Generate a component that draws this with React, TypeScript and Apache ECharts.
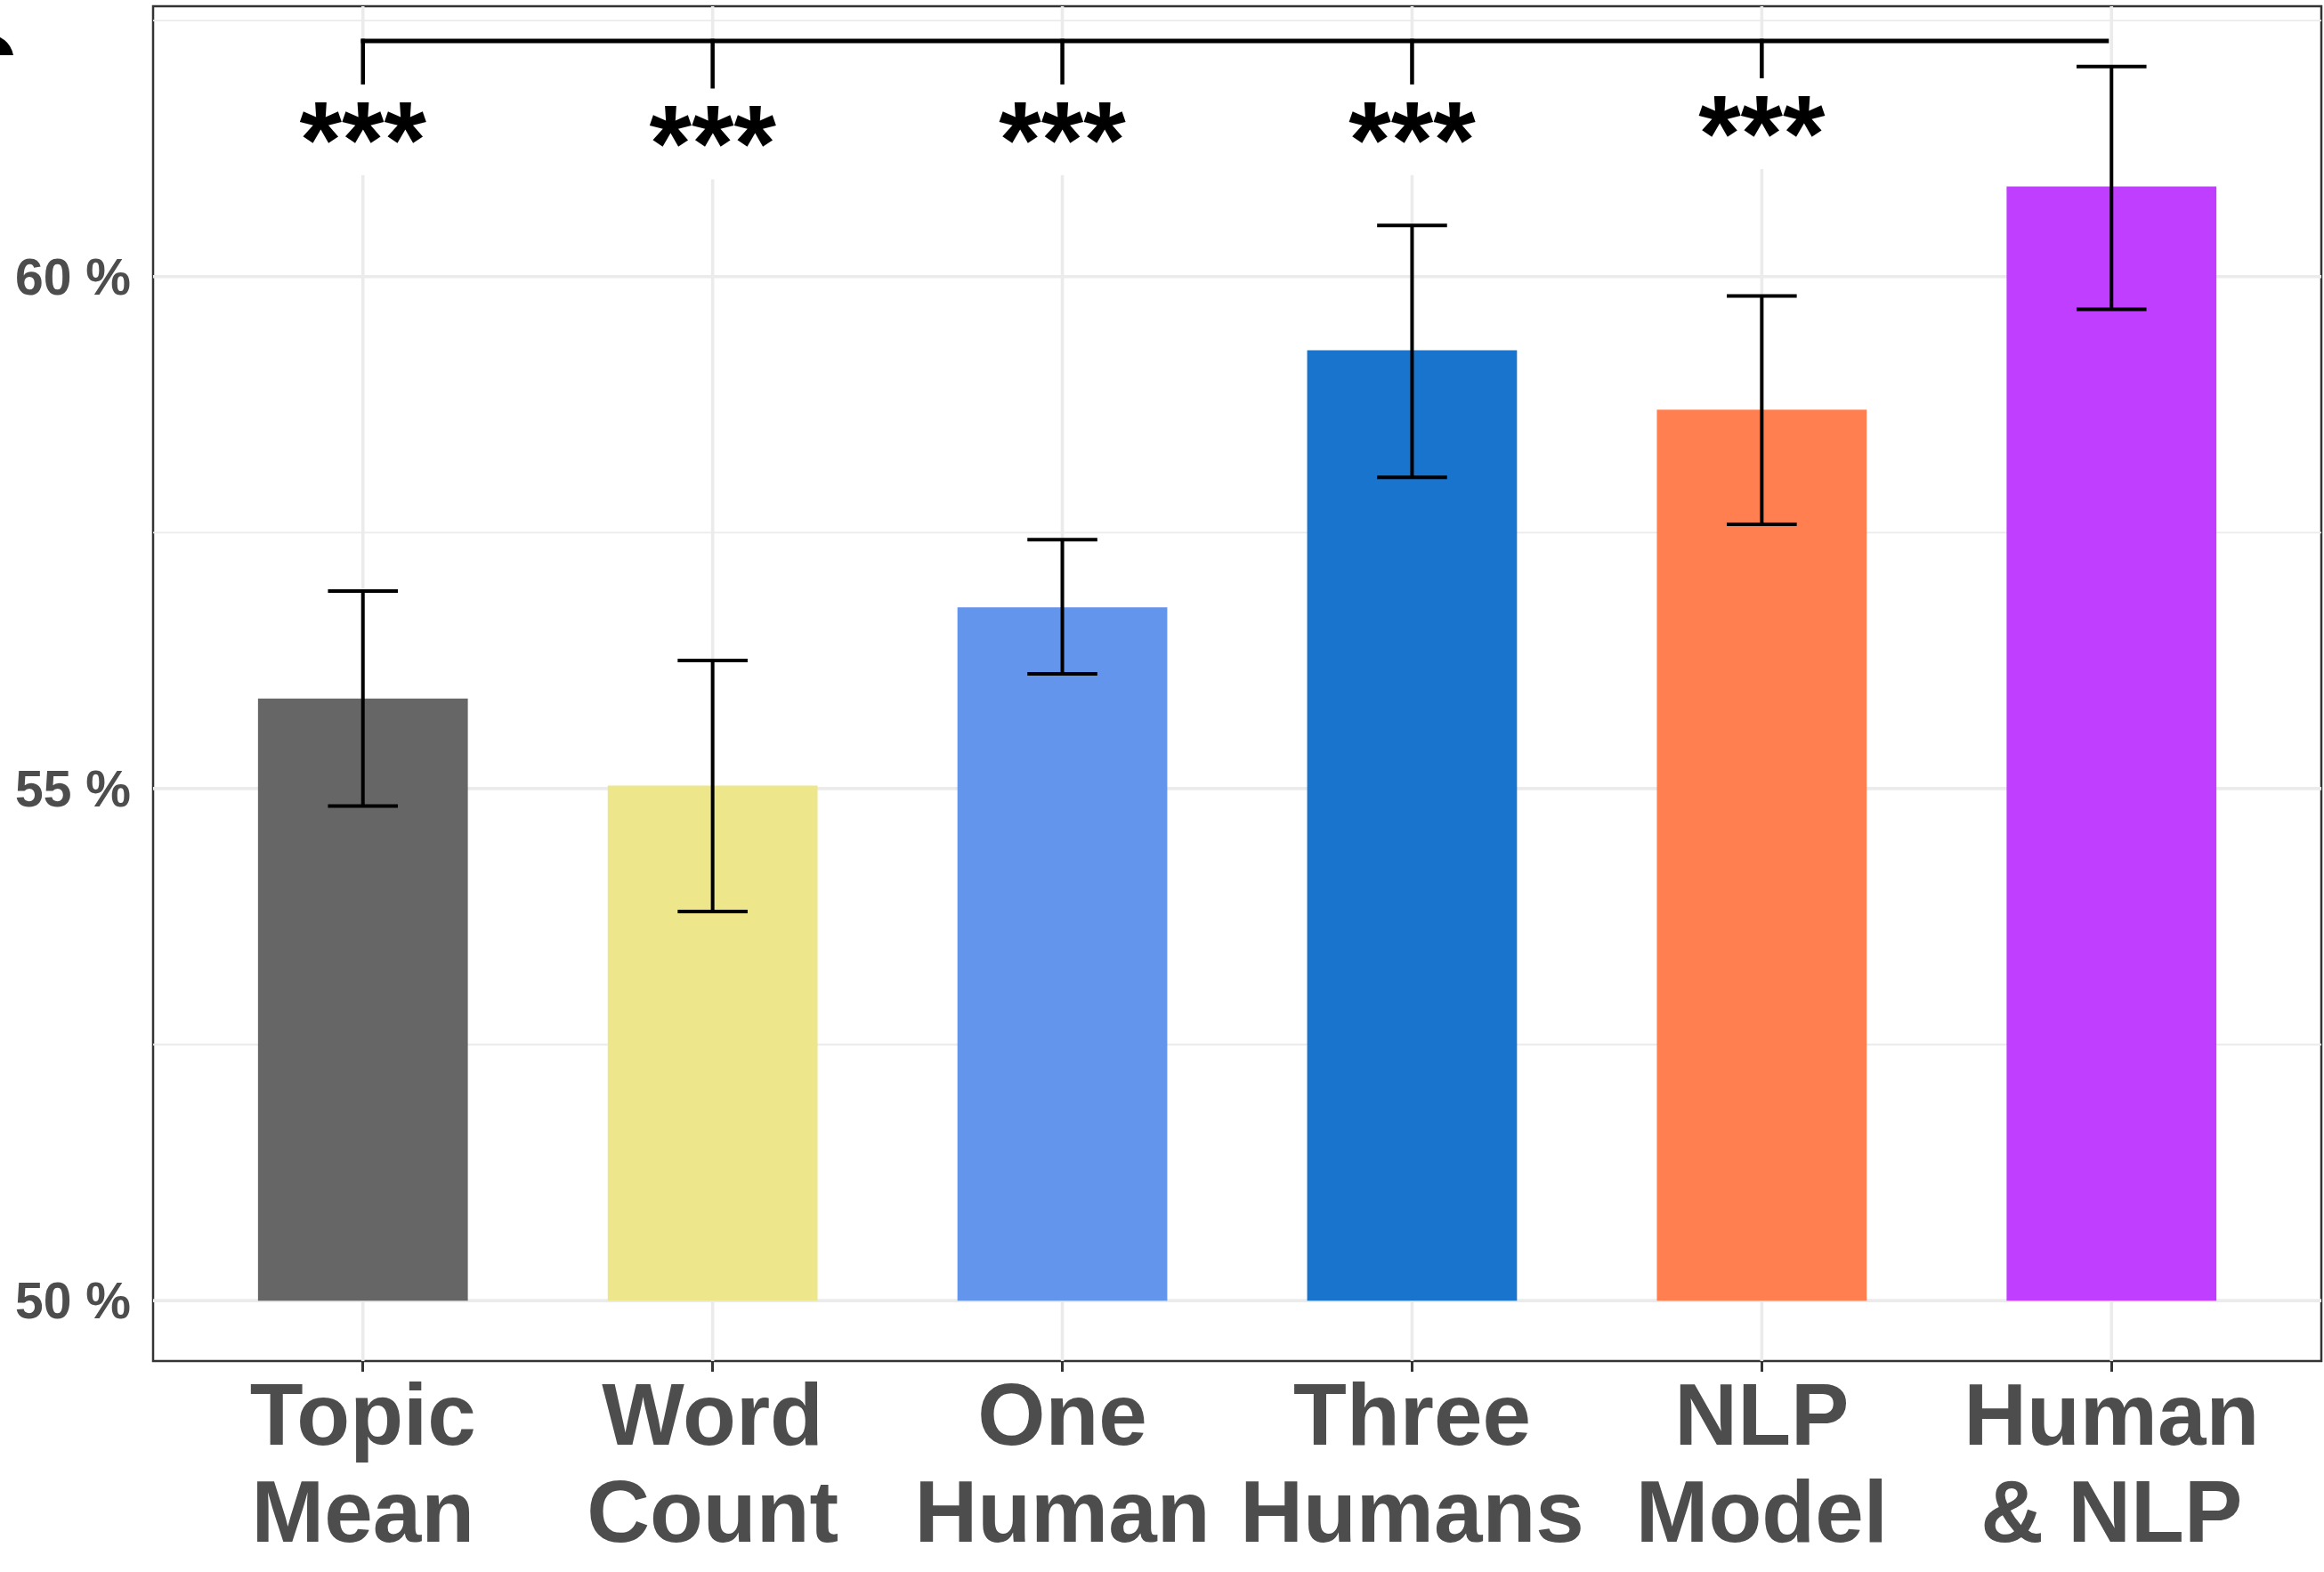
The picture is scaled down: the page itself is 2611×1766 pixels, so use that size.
import React, { useEffect, useRef } from "react";
import * as echarts from "echarts";

// ---- data ----
const categories = ["Topic\nMean", "Word\nCount", "One\nHuman", "Three\nHumans", "NLP\nModel", "Human\n& NLP"];
const accuracy = [55.88, 55.03, 56.77, 59.28, 58.7, 60.88];
const ciLow = [54.83, 53.8, 56.12, 58.04, 57.58, 59.68];
const ciHigh = [56.93, 56.25, 57.43, 60.5, 59.81, 62.05];
const barColors = ["#666666", "#EEE68B", "#6495ED", "#1874CD", "#FF7F50", "#BF3EFF"];
const yTickValues = [50, 55, 60];
const yMinorValues = [52.5, 57.5, 62.5];
const starLabels = ["***", "***", "***", "***", "***"];
const starY = [61.52, 61.48, 61.52, 61.52, 61.58];
const bracketY = 62.3;
const bracketEnd = 5;
const barBase = 50;
const yMin = 49.41;
const yMax = 62.64;
const xMin = -0.6;
const xMax = 5.6;

const FONT = "'Liberation Sans', Arial, Helvetica, sans-serif";

export default function App() {
  const ref = useRef<HTMLDivElement>(null);
  useEffect(() => {
    document.body.style.margin = "0";
    if (!ref.current) return;
    const chart = echarts.init(ref.current, undefined, { renderer: "svg" });

    const gridData: number[][] = [
      ...yTickValues.map((v) => [0, v, 1]),
      ...yMinorValues.map((v) => [0, v, 0]),
      ...categories.map((_, i) => [1, i, 1]),
    ];

    const option: any = {
      animation: false,
      backgroundColor: "#ffffff",
      grid: {
        left: 172,
        top: 7,
        right: 3,
        bottom: 237,
        show: true,
        borderColor: "#333333",
        borderWidth: 2.5,
        backgroundColor: "transparent",
        containLabel: false,
      },
      xAxis: {
        type: "value",
        min: xMin,
        max: xMax,
        splitLine: { show: false },
        axisLine: { show: false },
        axisTick: {
          show: true,
          customValues: categories.map((_, i) => i),
          length: 12,
          lineStyle: { color: "#333333", width: 3 },
        },
        axisLabel: {
          show: true,
          customValues: categories.map((_, i) => i),
          formatter: (v: number) => categories[Math.round(v)],
          fontSize: 98,
          fontWeight: "bold",
          fontFamily: FONT,
          color: "#4D4D4D",
          lineHeight: 109,
          margin: 5,
          align: "center",
        },
      },
      yAxis: {
        type: "value",
        min: yMin,
        max: yMax,
        splitLine: { show: false },
        axisLine: { show: false },
        axisTick: {
          show: true,
          customValues: yTickValues,
          length: 12,
          lineStyle: { color: "#333333", width: 3 },
        },
        axisLabel: {
          show: true,
          customValues: yTickValues,
          formatter: (v: number) => `${v} %`,
          fontSize: 57,
          fontWeight: "bold",
          fontFamily: FONT,
          color: "#4D4D4D",
          margin: 25,
        },
      },
      graphic: [
        {
          type: "text",
          x: -53,
          y: 64,
          z: 10,
          style: {
            text: "c",
            fontSize: 130,
            fontWeight: "bold",
            fontFamily: FONT,
            fill: "#000000",
            verticalAlign: "middle",
            align: "left",
          },
        },
        {
          type: "rect",
          z: 11,
          shape: { x: 0, y: 79, width: 40, height: 80 },
          style: { fill: "#ffffff" },
        },
      ],
      series: [
        {
          name: "gridlines",
          type: "custom",
          z: 1,
          silent: true,
          data: gridData,
          renderItem: (params: any, api: any) => {
            const kind = api.value(0);
            const v = api.value(1);
            const major = api.value(2);
            let p1, p2;
            if (kind === 0) {
              p1 = api.coord([xMin, v]);
              p2 = api.coord([xMax, v]);
            } else {
              p1 = api.coord([v, yMin]);
              p2 = api.coord([v, yMax]);
            }
            return {
              type: "line",
              shape: { x1: p1[0], y1: p1[1], x2: p2[0], y2: p2[1] },
              style: { stroke: "#EBEBEB", lineWidth: major ? 3.6 : 1.8 },
            };
          },
        },
        {
          name: "accuracy",
          type: "custom",
          z: 2,
          data: accuracy.map((v, i) => [i, v]),
          renderItem: (params: any, api: any) => {
            const i = api.value(0);
            const v = api.value(1);
            const p0 = api.coord([i - 0.3, v]);
            const p1 = api.coord([i + 0.3, barBase]);
            return {
              type: "rect",
              shape: { x: p0[0], y: p0[1], width: p1[0] - p0[0], height: p1[1] - p0[1] },
              style: { fill: barColors[i] },
            };
          },
        },
        {
          name: "ci",
          type: "custom",
          z: 3,
          data: accuracy.map((_, i) => [i, ciLow[i], ciHigh[i]]),
          renderItem: (params: any, api: any) => {
            const i = api.value(0);
            const lo = api.coord([i, api.value(1)]);
            const hi = api.coord([i, api.value(2)]);
            const capL = api.coord([i - 0.1, api.value(1)])[0];
            const capR = api.coord([i + 0.1, api.value(1)])[0];
            const st = { stroke: "#000000", lineWidth: 4 };
            return {
              type: "group",
              children: [
                { type: "line", shape: { x1: lo[0], y1: lo[1], x2: hi[0], y2: hi[1] }, style: st },
                { type: "line", shape: { x1: capL, y1: hi[1], x2: capR, y2: hi[1] }, style: st },
                { type: "line", shape: { x1: capL, y1: lo[1], x2: capR, y2: lo[1] }, style: st },
              ],
            };
          },
        },
        {
          name: "stars",
          type: "custom",
          z: 4,
          data: starLabels.map((_, i) => [i, starY[i]]),
          renderItem: (params: any, api: any) => {
            const i = api.value(0);
            const c = api.coord([i, api.value(1)]);
            return {
              type: "group",
              children: [
                {
                  type: "rect",
                  shape: { x: c[0] - 85, y: c[1] - 41, width: 170, height: 102 },
                  style: { fill: "#ffffff" },
                },
                {
                  type: "text",
                  x: c[0],
                  y: c[1] + 21,
                  style: {
                    text: starLabels[i],
                    fontSize: 122,
                    fontWeight: "bold",
                    fontFamily: FONT,
                    fill: "#000000",
                    align: "center",
                    verticalAlign: "middle",
                  },
                },
              ],
            };
          },
        },
        {
          name: "bracket",
          type: "custom",
          z: 5,
          data: starLabels.map((_, i) => [i, starY[i]]),
          renderItem: (params: any, api: any) => {
            const i = api.value(0);
            const top = api.coord([i, bracketY]);
            const star = api.coord([i, api.value(1)]);
            const st = { stroke: "#000000", lineWidth: 5 };
            const children: any[] = [
              { type: "line", shape: { x1: top[0], y1: top[1] - 2.5, x2: top[0], y2: star[1] - 41 }, style: { stroke: "#000000", lineWidth: 4.5 } },
            ];
            if (i === 0) {
              const end = api.coord([bracketEnd, bracketY]);
              children.push({ type: "line", shape: { x1: top[0] - 2.25, y1: top[1], x2: end[0] - 3, y2: end[1] }, style: st });
            }
            return { type: "group", children };
          },
        },
      ],
    };
    chart.setOption(option);
    return () => chart.dispose();
  }, []);
  return (
    <div
      ref={ref}
      style={{ position: "absolute", left: 0, top: 0, width: 2611, height: 1766, background: "#fff" }}
    />
  );
}
